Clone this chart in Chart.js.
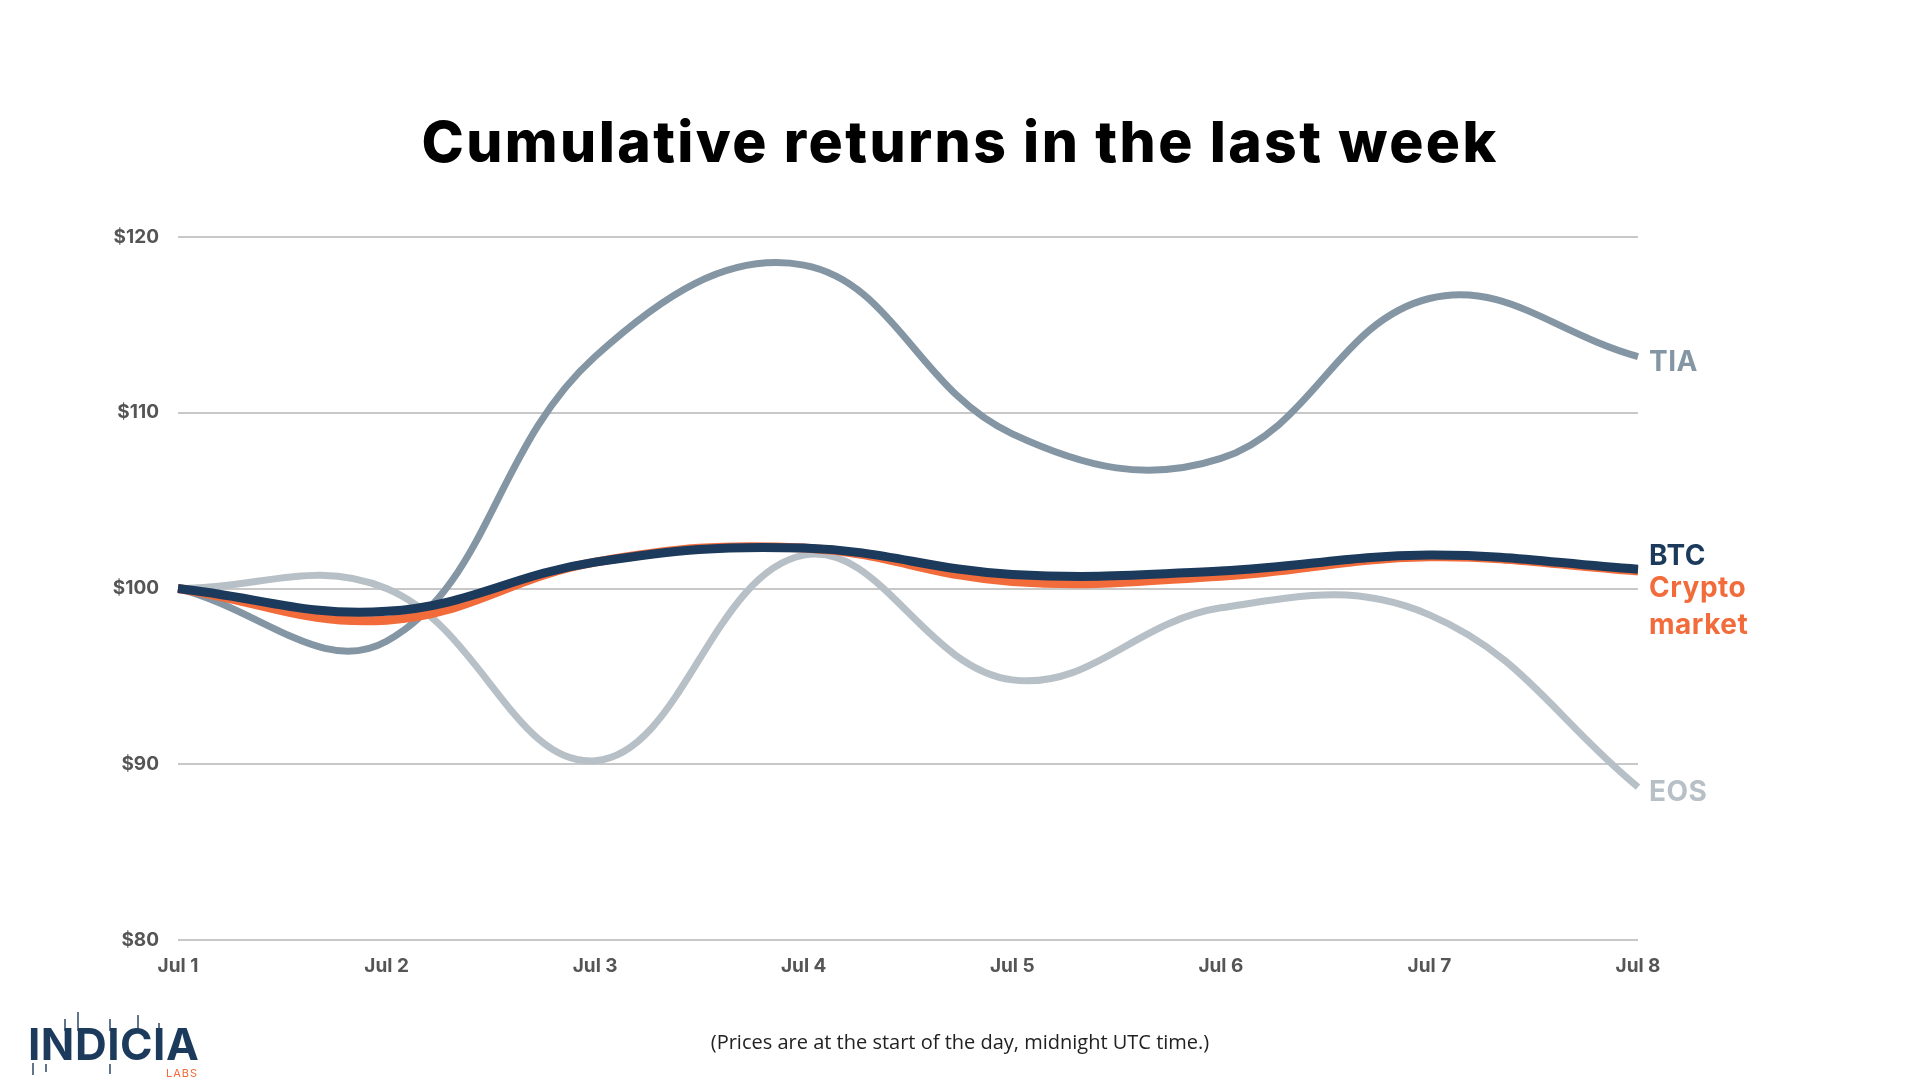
<!DOCTYPE html>
<html>
<head>
<meta charset="utf-8">
<script src="https://cdn.jsdelivr.net/npm/chart.js@4.4.0/dist/chart.umd.min.js"></script>
<style>
  body { margin: 0; background: #fff; }
  #wrap { position: relative; width: 1920px; height: 1080px; overflow: hidden; }
  #title { position: absolute; top: 107px; left: 0; width: 1920px; text-align: center;
    font-family: Inter, sans-serif; font-weight: 800; font-size: 57px; color: #000; letter-spacing: 2.4px; }
  #note { position: absolute; top: 1028px; left: 0; width: 1920px; text-align: center;
    font-family: "Open Sans", sans-serif; font-size: 20px; color: #222; }
  #logo { position: absolute; left: 28px; top: 1020px; font-family: Inter, sans-serif; }
  #logo .main { font-weight: 700; font-size: 44px; color: #1b3a5c; letter-spacing: 0.5px; line-height: 48px; }
  #logo .sub { position: absolute; left: 138px; top: 46px; font-size: 11px; color: #f26b3a; letter-spacing: 1px; }
  .stick { position: absolute; width: 2px; background: #1b3a5c; opacity: 0.7; }
</style>
</head>
<body>
<div id="wrap">
  <div id="title">Cumulative returns in the last week</div>
  <canvas id="chart" width="1920" height="1080"></canvas>
  <div id="note">(Prices are at the start of the day, midnight UTC time.)</div>
  <div id="logo"><div class="main">INDICIA</div><div class="sub">LABS</div></div>
  <div class="stick" style="left:32px;top:1063px;height:12px"></div>
  <div class="stick" style="left:45px;top:1064px;height:8px"></div>
  <div class="stick" style="left:64px;top:1019px;height:12px"></div>
  <div class="stick" style="left:77px;top:1012px;height:19px"></div>
  <div class="stick" style="left:109px;top:1019px;height:12px"></div>
  <div class="stick" style="left:109px;top:1064px;height:10px"></div>
  <div class="stick" style="left:137px;top:1015px;height:16px"></div>
  <div class="stick" style="left:158px;top:1023px;height:9px"></div>
</div>
<script>
// Cumulative returns, $100 invested on Jul 1
const days = ['Jul 1', 'Jul 2', 'Jul 3', 'Jul 4', 'Jul 5', 'Jul 6', 'Jul 7', 'Jul 8'];
const btc = [100, 98.7, 101.5, 102.3, 100.8, 101.0, 101.9, 101.1];
const cryptoMarket = [100, 98.2, 101.5, 102.3, 100.4, 100.7, 101.8, 101.0];
const tia = [100, 97.0, 113.2, 118.4, 108.8, 107.4, 116.5, 113.2];
const eos = [100, 100.0, 90.2, 101.9, 94.8, 98.9, 98.5, 88.7];
const yTicks = [80, 90, 100, 110, 120];

const NAVY = '#1b3a5c', ORANGE = '#f26b3a', SLATE = '#8496a4', SILVER = '#b6c0c6';

// labels drawn at the right end of each line
const endLabels = [
    { ds: 0, lines: ['BTC'], color: NAVY, dy: -13 },
    { ds: 1, lines: ['Crypto', 'market'], color: ORANGE, dy: 18 },
    { ds: 2, lines: ['TIA'], color: SLATE, dy: 6 },
    { ds: 3, lines: ['EOS'], color: SILVER, dy: 5 }
];

const endLabelPlugin = {
    id: 'endLabels',
    afterDatasetsDraw(chart) {
        const c = chart.ctx;
        const x = chart.chartArea.right + 11;
        c.save();
        c.font = '700 28px Inter, sans-serif';
        c.letterSpacing = '0.5px';
        c.textAlign = 'left';
        c.textBaseline = 'middle';
        endLabels.forEach(l => {
            const pts = chart.getDatasetMeta(l.ds).data;
            const y = pts[pts.length - 1].y + l.dy;
            c.fillStyle = l.color;
            l.lines.forEach((t, i) => c.fillText(t, x, y + i * 37));
        });
        c.restore();
    }
};

function line(label, data, color, width) {
    return {
        label: label,
        data: data,
        borderColor: color,
        borderWidth: width,
        pointRadius: 0,
        tension: 0.4,
        fill: false
    };
}

const ctx = document.getElementById('chart').getContext('2d');
new Chart(ctx, {
    type: 'line',
    data: {
        labels: days,
        datasets: [
            line('BTC', btc, NAVY, 9),
            line('Crypto market', cryptoMarket, ORANGE, 9),
            line('TIA', tia, SLATE, 7),
            line('EOS', eos, SILVER, 7)
        ]
    },
    options: {
        responsive: false,
        animation: false,
        layout: { padding: { top: 237, right: 282, bottom: 100, left: 0 } },
        plugins: { legend: { display: false }, tooltip: { enabled: false } },
        scales: {
            x: {
                grid: { display: false },
                border: { display: false },
                ticks: {
                    color: '#555',
                    font: { family: 'Inter, sans-serif', weight: '700', size: 19 },
                    padding: 7,
                    maxRotation: 0
                },
                afterFit: s => { s.height = 40; }
            },
            y: {
                min: 80,
                max: 120,
                afterBuildTicks: s => { s.ticks = yTicks.map(v => ({ value: v })); },
                grid: { color: '#c8c8c8', lineWidth: 2, drawTicks: false },
                border: { display: false },
                ticks: {
                    color: '#555',
                    font: { family: 'Inter, sans-serif', weight: '700', size: 19 },
                    padding: 19,
                    callback: v => '$' + v
                },
                afterFit: s => { s.width = 178; }
            }
        }
    },
    plugins: [endLabelPlugin]
});
</script>
</body>
</html>
